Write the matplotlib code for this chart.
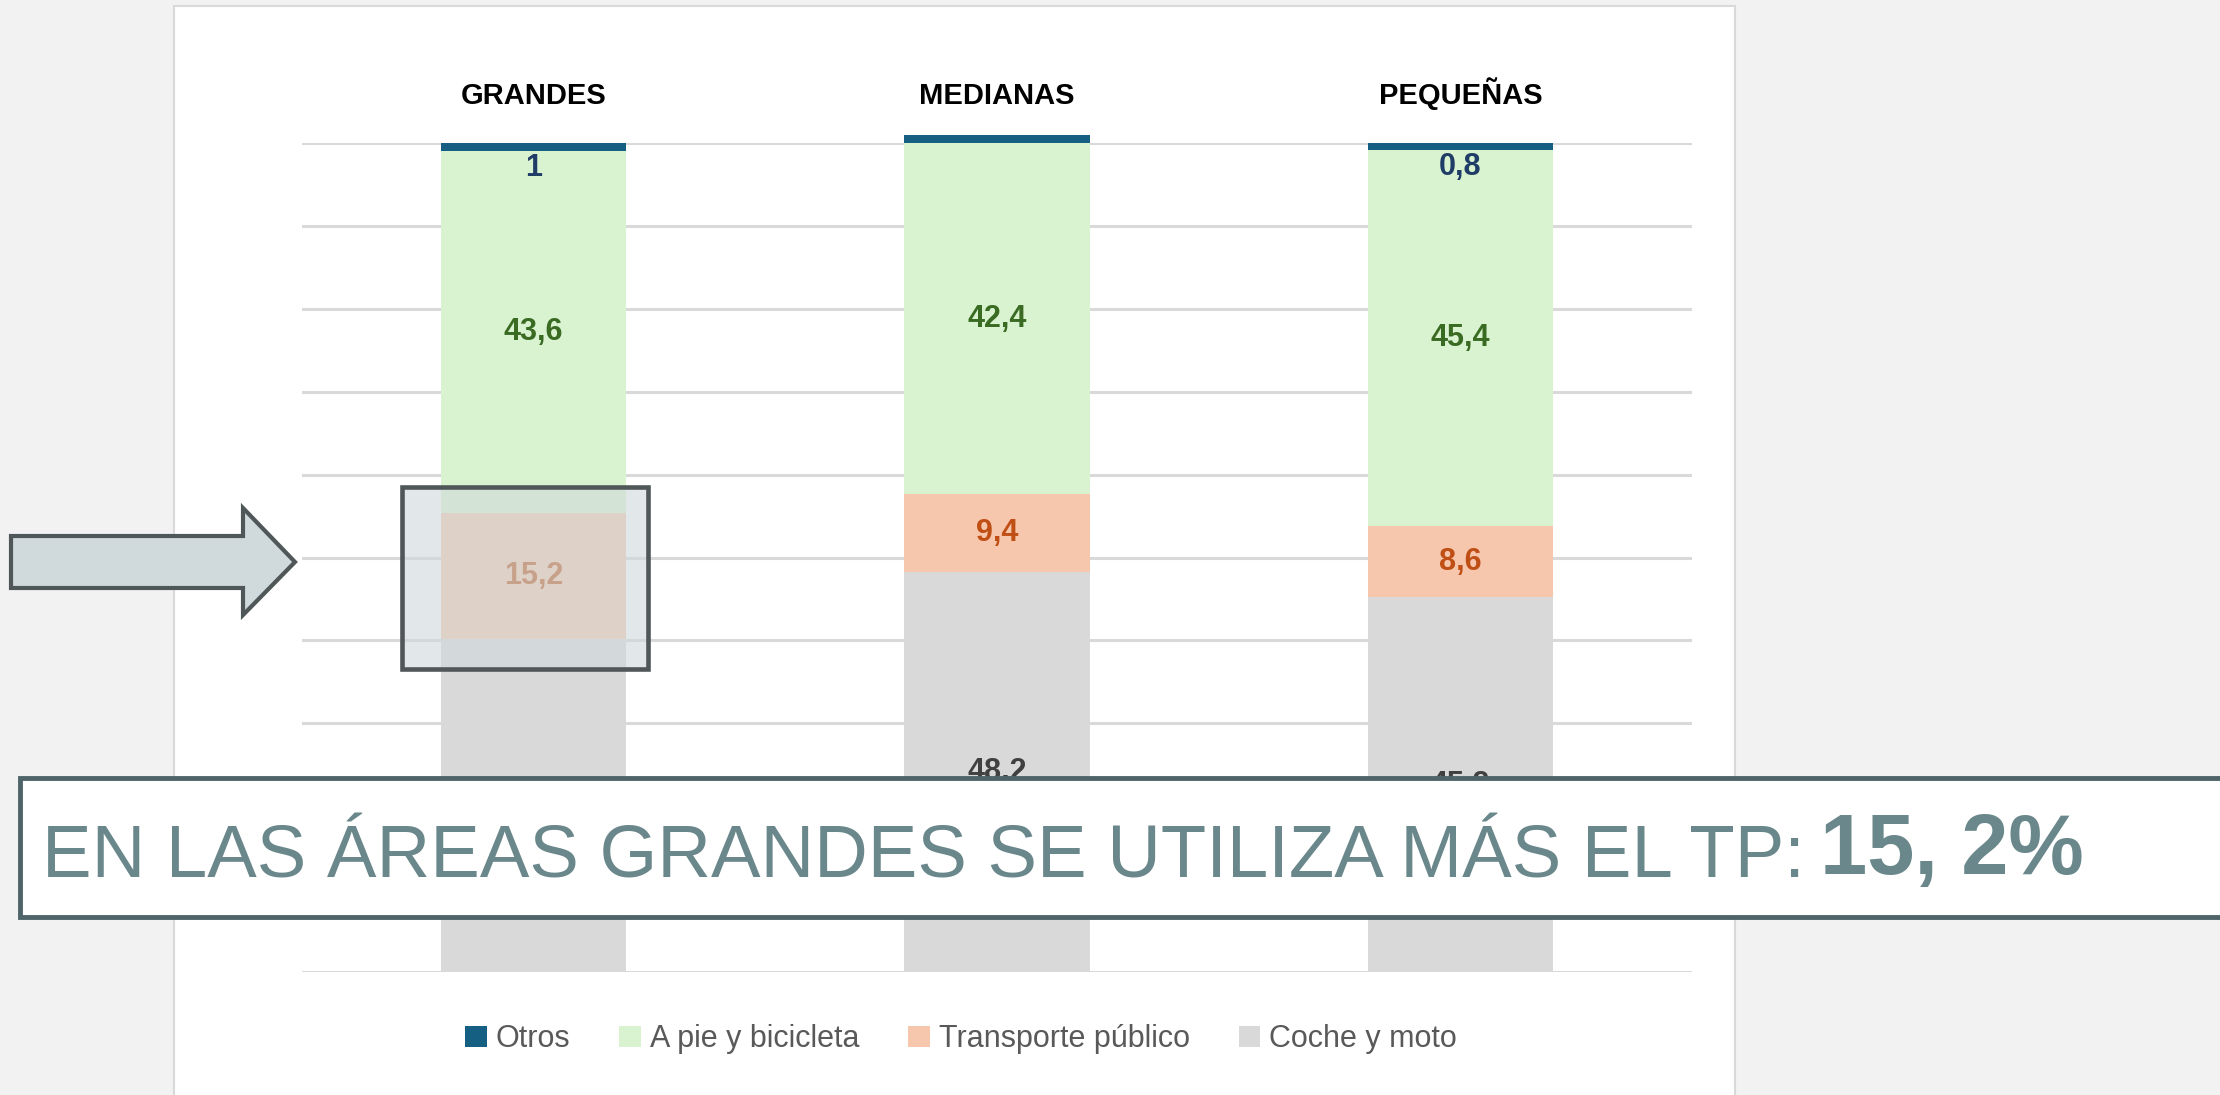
import numpy as np
import matplotlib
matplotlib.use('Agg')
import matplotlib.pyplot as plt
from matplotlib.patches import Rectangle, Polygon
from matplotlib.transforms import blended_transform_factory

plt.rcParams['font.family'] = ['Liberation Sans', 'DejaVu Sans']

# datos (% de desplazamientos por modo)
categories = ['GRANDES', 'MEDIANAS', 'PEQUEÑAS']
coche = [40.2, 48.2, 45.2]
transporte = [15.2, 9.4, 8.6]
a_pie = [43.6, 42.4, 45.4]
otros = [1, 1, 0.8]

series = [coche, transporte, a_pie, otros]
series_names = ['Coche y moto', 'Transporte público', 'A pie y bicicleta', 'Otros']
colors = ['#D9D9D9', '#F6C6AD', '#D9F2D0', '#156082']
label_colors = ['#404040', '#C04F15', '#3A6B22', '#1F3D66']

W, H = 2220, 1095
fig = plt.figure(figsize=(W / 100, H / 100), dpi=100, facecolor='#F2F2F2')

# panel blanco de fondo
bg = fig.add_axes([0, 0, 1, 1], zorder=0)
bg.set_xlim(0, W); bg.set_ylim(H, 0); bg.axis('off')
bg.add_patch(Rectangle((174, 6), 1561, 1100, fc='white', ec='#D9D9D9', lw=1.5))

ax = fig.add_axes([302 / W, 1 - 972 / H, 1390 / W, 829 / H], zorder=1)
ax.set_facecolor('none')
x = np.arange(len(categories))
bottom = np.zeros(len(categories))
handles = []
for vals, name, c, lc in zip(series, series_names, colors, label_colors):
    b = ax.bar(x, vals, 0.4, bottom=bottom, color=c, label=name, clip_on=False, lw=0)
    handles.append(b)
    for i, v in enumerate(vals):
        txt = '{:g}'.format(v).replace('.', ',')
        yc = bottom[i] + v / 2
        if name == 'Otros':
            ax.annotate(txt, (i, yc), xytext=(0, -15), textcoords='offset points',
                        ha='center', va='center', fontsize=22, fontweight='bold', color=lc)
        else:
            ax.text(i, yc, txt, ha='center', va='center', fontsize=22,
                    fontweight='bold', color=lc)
    bottom += np.array(vals)

ax.set_xlim(-0.5, 2.5)
ax.set_ylim(0, 100)
ax.set_yticks(np.arange(0, 101, 10))
ax.grid(axis='y', color='#D9D9D9', lw=2.2)
ax.set_axisbelow(True)
ax.tick_params(left=False, bottom=False, labelleft=False, labelbottom=False)
for s in ax.spines.values():
    s.set_visible(False)

trans = blended_transform_factory(ax.transData, ax.transAxes)
for i, cat in enumerate(categories):
    ax.text(i, 1.047, cat, transform=trans, ha='center', va='baseline',
            fontsize=21, fontweight='bold', color='black')

fig.legend(handles[::-1], series_names[::-1], loc='center',
           bbox_to_anchor=(961 / W, 1 - 1039 / H), ncol=4, frameon=False,
           fontsize=22, handlelength=0.7, handleheight=0.7, handletextpad=0.3,
           columnspacing=1.6, labelcolor='#595959')

# capa de anotaciones (flecha, recuadro, banner)
ov = fig.add_axes([0, 0, 1, 1], zorder=2)
ov.set_xlim(0, W); ov.set_ylim(H, 0); ov.axis('off')

ov.add_patch(Rectangle((402, 487), 246, 182, fc=(0.81, 0.85, 0.86, 0.6),
                       ec='#4F5759', lw=3.3))
arrow_pts = [(11, 536), (243, 536), (243, 508), (295, 562),
             (243, 615), (243, 588), (11, 588)]
ov.add_patch(Polygon(arrow_pts, closed=True, fc='#D0DADC', ec='#4F5759', lw=3))

ov.add_patch(Rectangle((20, 778), 2300, 139, fc='white', ec='#4F6469', lw=3.5,
                       clip_on=False))
t1 = ov.text(42, 877, 'EN LAS ÁREAS GRANDES SE UTILIZA MÁS EL TP: ', ha='left',
             va='baseline', fontsize=53.5, color='#6A878B')
ov.annotate('15, 2%', xy=(1, 0), xycoords=t1, xytext=(-4, 0), textcoords='offset points',
            ha='left', va='bottom', fontsize=61, fontweight='bold', color='#6A878B')

fig.savefig('out.png', dpi=100, facecolor=fig.get_facecolor())
